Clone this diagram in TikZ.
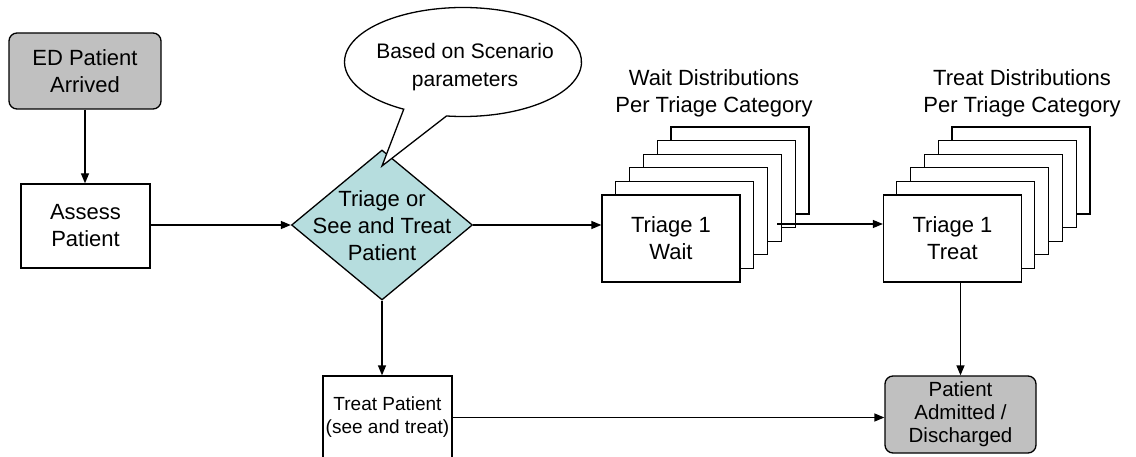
\documentclass[tikz,border=0pt]{standalone}
\usepackage{fontspec}
\setmainfont{Liberation Sans}
\usetikzlibrary{arrows.meta,shapes.geometric}

\definecolor{eventgray}{RGB}{192,192,192}
\definecolor{decisionblue}{RGB}{182,221,222}

\begin{document}
\begin{tikzpicture}[x=1pt,y=-1pt,line width=1.3pt,
  >={Triangle[length=10pt,width=8pt]},
  every node/.style={font=\fontsize{22}{27}\selectfont,align=center,inner sep=0pt},
  event/.style={draw,rounded corners=8pt,fill=eventgray},
  process/.style={draw,fill=white},
  stackbox/.style={draw,fill=white}]

\useasboundingbox (0,0) rectangle (1136,457);

%draw start event and assessment
\node[event,minimum width=152pt,minimum height=76pt] (arrived) at (85,71) {ED Patient\\Arrived};
\node[process,minimum width=129pt,minimum height=84pt] (assess) at (85.5,226) {Assess\\Patient};

%draw decision diamond
\node[diamond,draw,fill=decisionblue,minimum width=181pt,minimum height=150pt] (triage) at (382,225) {};
\node (triagetext) at (382,226) {Triage or\\See and Treat\\Patient};

%draw scenario callout
\draw[fill=white] (382,166) -- ([shift={(98:118.5 and 54.5)}]463,62)
	arc[start angle=98,end angle=-240,x radius=118.5,y radius=54.5] -- cycle;
\node[font=\fontsize{21}{28}\selectfont] (scenariotext) at (465,67) {Based on Scenario\\parameters};

%draw stacked distribution boxes
\foreach \i in {5,4,3,2,1}
	{
	\draw[stackbox] (602+\i*13.8,195-\i*13.6) rectangle ++(138,87);
	\draw[stackbox] (883+\i*13.8,195-\i*13.6) rectangle ++(138,87);
	}
\node[process,minimum width=138pt,minimum height=87pt] (wait1) at (671,238.5) {Triage 1\\Wait};
\node[process,minimum width=138pt,minimum height=87pt] (treat1) at (952.5,238.5) {Triage 1\\Treat};

%label stacks
\node (waitlabel) at (714,93) {Wait Distributions\\Per Triage Category};
\node (treatlabel) at (1022,93) {Treat Distributions\\Per Triage Category};

%draw end boxes
\node[process,minimum width=129pt,minimum height=83pt,font=\fontsize{19}{23}\selectfont] (treatpat) at (387.5,417.5) {Treat Patient\\(see and treat)};
\node[event,minimum width=151pt,minimum height=77pt,font=\fontsize{20.5}{23}\selectfont] (admitted) at (960.5,414.5) {Patient\\Admitted /\\Discharged};

%draw flow arrows
\coordinate (waitout) at (777,224);
\draw[->] (arrived.south) -- (arrived.south |- assess.north);
\draw[->] (triage.west -| assess.east) -- (triage.west);
\draw[->] (triage.east) -- (triage.east -| wait1.west);
\draw[->] (waitout) -- (waitout -| treat1.west);
\draw[->] (triage.south) -- (triage.south |- treatpat.north);
\draw[->] (treat1.south -| admitted.north) -- (admitted.north);
\draw[->] (treatpat.east) -- (treatpat.east -| admitted.west);

\end{tikzpicture}
\end{document}
